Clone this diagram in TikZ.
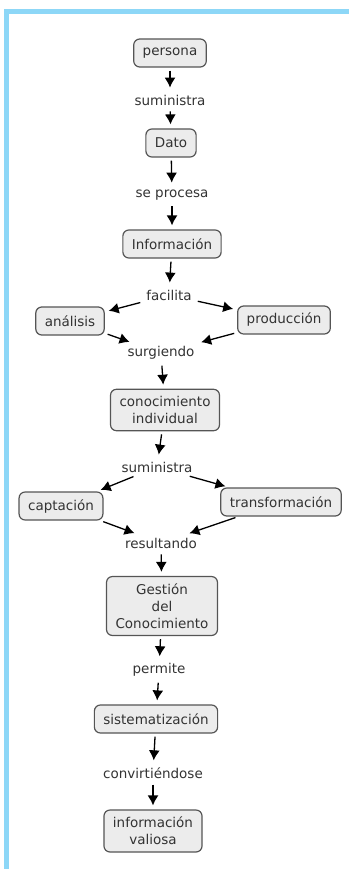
\documentclass[tikz,border=0pt]{standalone}
\usepackage{fontspec}
\setmainfont{DejaVu Sans}
\usepackage{tikz}
\usetikzlibrary{arrows.meta, positioning}

\definecolor{frameblue}{RGB}{141,215,247}
\definecolor{boxfill}{RGB}{236,236,236}
\definecolor{boxline}{RGB}{85,85,85}
\definecolor{inkgray}{RGB}{51,51,51}

\begin{document}
\begin{tikzpicture}[%
    ,x=1pt,y=1pt
    ,font=\fontsize{13.5}{17}\selectfont
    ,text=inkgray
    ,concept/.style = {%
        ,draw=boxline, fill=boxfill
        ,line width=1.2pt
        ,rounded corners=6pt
        ,inner xsep=9pt, inner ysep=7pt
        ,minimum height=28pt
        ,align=center
        }
    ,link/.style = {inner sep=3pt}
    ,arr/.style = {%
        ,-{Latex[length=10pt,width=11pt]}
        ,line width=1.3pt
        ,shorten >=4pt, shorten <=3pt
        }
    ]
\useasboundingbox (0,0) rectangle (349,-869);

% frame
\fill[frameblue] (4,-9) rectangle (349,-14);
\fill[frameblue] (4,-9) rectangle (9,-869);

% concepts
\node (per)  [concept] at (170,-53)  {persona};
\node (dat)  [concept] at (171,-143) {Dato};
\node (inf)  [concept] at (172,-244) {Información};
\node (ana)  [concept] at (70,-321)  {análisis};
\node (pro)  [concept] at (284,-320) {producción};
\node (coi)  [concept] at (165,-410) {conocimiento\\individual};
\node (cap)  [concept] at (61,-506)  {captación};
\node (tra)  [concept] at (281,-502) {transformación};
\node (gco)  [concept] at (162,-606) {Gestión\\del\\Conocimiento};
\node (sis)  [concept] at (156,-719) {sistematización};
\node (val)  [concept] at (153,-831) {información\\valiosa};

% linking words
\node (sum1) [link] at (170,-100) {suministra};
\node (spr)  [link] at (172,-195) {se procesa};
\node (fac)  [link] at (169,-295) {facilita};
\node (sur)  [link] at (161,-353) {surgiendo};
\node (sum2) [link] at (157,-467) {suministra};
\node (res)  [link] at (161,-543) {resultando};
\node (prm)  [link] at (159,-670) {permite};
\node (cnv)  [link] at (153,-773) {convirtiéndose};

\foreach \a/\b in {%
    per/sum1, sum1/dat, dat/spr, spr/inf, inf/fac,
    fac/ana, fac/pro, ana/sur, pro/sur, sur/coi,
    coi/sum2, sum2/cap, sum2/tra, cap/res, tra/res, res/gco,
    gco/prm, prm/sis, sis/cnv, cnv/val}
    \draw[arr] (\a) -- (\b);
\end{tikzpicture}
\end{document}
